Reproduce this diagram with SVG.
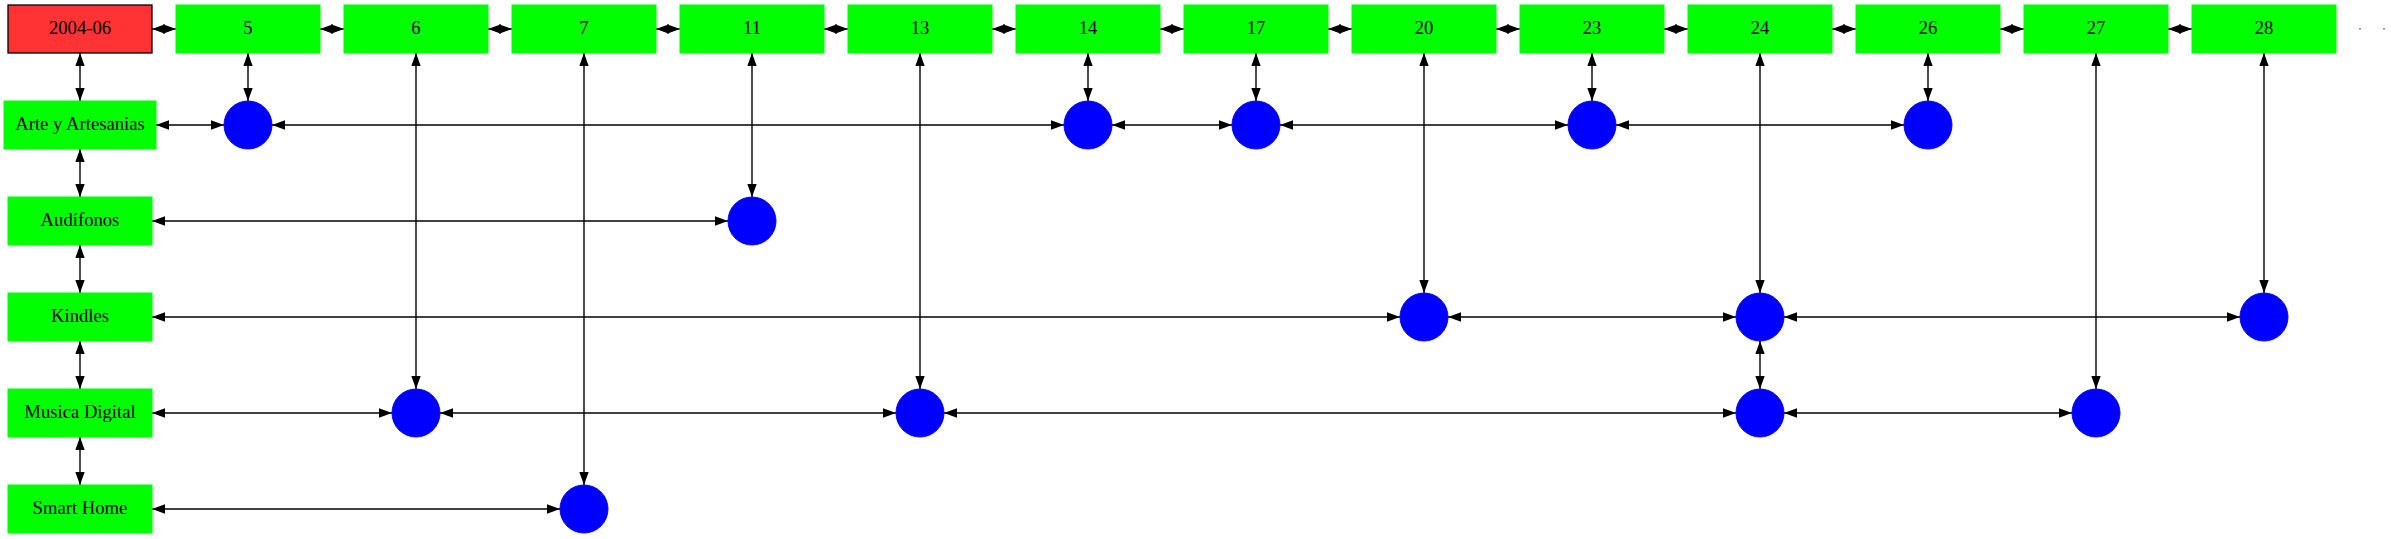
<svg xmlns="http://www.w3.org/2000/svg" width="2391" height="539" viewBox="0 0 2391 539">
<defs>
<marker id="ah" markerWidth="13" markerHeight="10" refX="13" refY="5" orient="auto-start-reverse" markerUnits="userSpaceOnUse" viewBox="0 0 13 10"><path d="M0,0.3 L13,5 L0,9.7 z" fill="#000"/></marker>
</defs>
<style>
.b{fill:#00ff00;stroke:#00ff00;stroke-width:1}
.r{fill:#ff3333;stroke:#000;stroke-width:1.3}
.c{fill:#0000ff;stroke:#0000ff;stroke-width:1}
text{font-family:"Liberation Serif","Times New Roman",serif;font-size:18.67px;fill:#000;text-anchor:middle}
#edges line{stroke:#000;stroke-width:1.4;marker-start:url(#ah);marker-end:url(#ah)}
</style>
<rect width="2391" height="539" fill="#fff"/>
<g id="edges">
<line x1="152" y1="29" x2="176" y2="29"/>
<line x1="320" y1="29" x2="344" y2="29"/>
<line x1="488" y1="29" x2="512" y2="29"/>
<line x1="656" y1="29" x2="680" y2="29"/>
<line x1="824" y1="29" x2="848" y2="29"/>
<line x1="992" y1="29" x2="1016" y2="29"/>
<line x1="1160" y1="29" x2="1184" y2="29"/>
<line x1="1328" y1="29" x2="1352" y2="29"/>
<line x1="1496" y1="29" x2="1520" y2="29"/>
<line x1="1664" y1="29" x2="1688" y2="29"/>
<line x1="1832" y1="29" x2="1856" y2="29"/>
<line x1="2000" y1="29" x2="2024" y2="29"/>
<line x1="2168" y1="29" x2="2192" y2="29"/>
<line x1="80" y1="53" x2="80" y2="101"/>
<line x1="80" y1="149" x2="80" y2="197"/>
<line x1="80" y1="245" x2="80" y2="293"/>
<line x1="80" y1="341" x2="80" y2="389"/>
<line x1="80" y1="437" x2="80" y2="485"/>
<line x1="248" y1="53" x2="248" y2="101"/>
<line x1="416" y1="53" x2="416" y2="389"/>
<line x1="584" y1="53" x2="584" y2="485"/>
<line x1="752" y1="53" x2="752" y2="197"/>
<line x1="920" y1="53" x2="920" y2="389"/>
<line x1="1088" y1="53" x2="1088" y2="101"/>
<line x1="1256" y1="53" x2="1256" y2="101"/>
<line x1="1424" y1="53" x2="1424" y2="293"/>
<line x1="1592" y1="53" x2="1592" y2="101"/>
<line x1="1760" y1="53" x2="1760" y2="293"/>
<line x1="1760" y1="341" x2="1760" y2="389"/>
<line x1="1928" y1="53" x2="1928" y2="101"/>
<line x1="2096" y1="53" x2="2096" y2="389"/>
<line x1="2264" y1="53" x2="2264" y2="293"/>
<line x1="156" y1="125" x2="224" y2="125"/>
<line x1="272" y1="125" x2="1064" y2="125"/>
<line x1="1112" y1="125" x2="1232" y2="125"/>
<line x1="1280" y1="125" x2="1568" y2="125"/>
<line x1="1616" y1="125" x2="1904" y2="125"/>
<line x1="152" y1="221" x2="728" y2="221"/>
<line x1="152" y1="317" x2="1400" y2="317"/>
<line x1="1448" y1="317" x2="1736" y2="317"/>
<line x1="1784" y1="317" x2="2240" y2="317"/>
<line x1="152" y1="413" x2="392" y2="413"/>
<line x1="440" y1="413" x2="896" y2="413"/>
<line x1="944" y1="413" x2="1736" y2="413"/>
<line x1="1784" y1="413" x2="2072" y2="413"/>
<line x1="152" y1="509" x2="560" y2="509"/>
</g>
<rect x="2359" y="28" width="2" height="1.5" fill="#888"/>
<rect x="2383" y="28" width="2" height="1.5" fill="#888"/>
<g id="n-2004-06"><rect class="r" x="8" y="5" width="144" height="48"/><text x="80" y="34.3">2004-06</text></g>
<g id="n-5"><rect class="b" x="176" y="5" width="144" height="48"/><text x="248" y="34.3">5</text></g>
<g id="n-6"><rect class="b" x="344" y="5" width="144" height="48"/><text x="416" y="34.3">6</text></g>
<g id="n-7"><rect class="b" x="512" y="5" width="144" height="48"/><text x="584" y="34.3">7</text></g>
<g id="n-11"><rect class="b" x="680" y="5" width="144" height="48"/><text x="752" y="34.3">11</text></g>
<g id="n-13"><rect class="b" x="848" y="5" width="144" height="48"/><text x="920" y="34.3">13</text></g>
<g id="n-14"><rect class="b" x="1016" y="5" width="144" height="48"/><text x="1088" y="34.3">14</text></g>
<g id="n-17"><rect class="b" x="1184" y="5" width="144" height="48"/><text x="1256" y="34.3">17</text></g>
<g id="n-20"><rect class="b" x="1352" y="5" width="144" height="48"/><text x="1424" y="34.3">20</text></g>
<g id="n-23"><rect class="b" x="1520" y="5" width="144" height="48"/><text x="1592" y="34.3">23</text></g>
<g id="n-24"><rect class="b" x="1688" y="5" width="144" height="48"/><text x="1760" y="34.3">24</text></g>
<g id="n-26"><rect class="b" x="1856" y="5" width="144" height="48"/><text x="1928" y="34.3">26</text></g>
<g id="n-27"><rect class="b" x="2024" y="5" width="144" height="48"/><text x="2096" y="34.3">27</text></g>
<g id="n-28"><rect class="b" x="2192" y="5" width="144" height="48"/><text x="2264" y="34.3">28</text></g>
<g id="n-arte"><rect class="b" x="4" y="101" width="152" height="48"/><text x="80" y="130">Arte y Artesanias</text></g>
<g id="n-audifonos"><rect class="b" x="8" y="197" width="144" height="48"/><text x="80" y="226">Audífonos</text></g>
<g id="n-kindles"><rect class="b" x="8" y="293" width="144" height="48"/><text x="80" y="322">Kindles</text></g>
<g id="n-musica"><rect class="b" x="8" y="389" width="144" height="48"/><text x="80" y="418">Musica Digital</text></g>
<g id="n-smarthome"><rect class="b" x="8" y="485" width="144" height="48"/><text x="80" y="514">Smart Home</text></g>
<g id="c-arte-5"><circle class="c" cx="248" cy="125" r="24"/></g>
<g id="c-arte-14"><circle class="c" cx="1088" cy="125" r="24"/></g>
<g id="c-arte-17"><circle class="c" cx="1256" cy="125" r="24"/></g>
<g id="c-arte-23"><circle class="c" cx="1592" cy="125" r="24"/></g>
<g id="c-arte-26"><circle class="c" cx="1928" cy="125" r="24"/></g>
<g id="c-aud-11"><circle class="c" cx="752" cy="221" r="24"/></g>
<g id="c-kin-20"><circle class="c" cx="1424" cy="317" r="24"/></g>
<g id="c-kin-24"><circle class="c" cx="1760" cy="317" r="24"/></g>
<g id="c-kin-28"><circle class="c" cx="2264" cy="317" r="24"/></g>
<g id="c-mus-6"><circle class="c" cx="416" cy="413" r="24"/></g>
<g id="c-mus-13"><circle class="c" cx="920" cy="413" r="24"/></g>
<g id="c-mus-24"><circle class="c" cx="1760" cy="413" r="24"/></g>
<g id="c-mus-27"><circle class="c" cx="2096" cy="413" r="24"/></g>
<g id="c-sh-7"><circle class="c" cx="584" cy="509" r="24"/></g>
</svg>
